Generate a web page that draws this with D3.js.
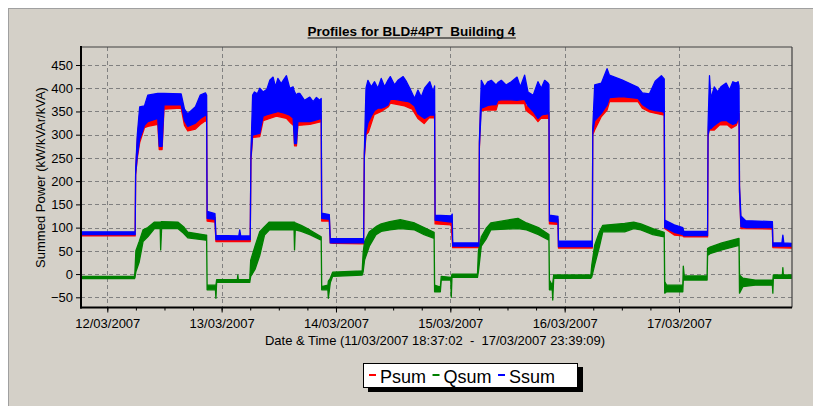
<!DOCTYPE html>
<html><head><meta charset="utf-8">
<script src="https://cdn.jsdelivr.net/npm/d3@7"></script>
<style>
body{margin:0;background:#fff}
svg{display:block}
text{font-family:Arial,"Liberation Sans",sans-serif;fill:#000;white-space:pre}
</style>
</head><body>
<svg id="c" width="813" height="406"></svg>
<script>
const chartTitle = "Profiles for BLD#4PT  Building 4";
const yTitle = "Summed Power (kW/kVAr/kVA)";
const xTitle = "Date & Time (11/03/2007 18:37:02  -  17/03/2007 23:39:09)";
const seriesNames = ["Psum", "Qsum", "Ssum"];
const seriesColors = ["#ff0000", "#008000", "#0000ff"];
const yTickValues = [-50, 0, 50, 100, 150, 200, 250, 300, 350, 400, 450];
const xTickLabels = ["12/03/2007", "13/03/2007", "14/03/2007", "15/03/2007", "16/03/2007", "17/03/2007"];
const startHour = -5.383;   // 11/03/2007 18:37:02
const endHour = 143.652;    // 17/03/2007 23:39:09

// rows: [hours since 12/03/2007 00:00, envelope low, envelope high]
const psum = [
 [-5.38,82,88],[5.85,82,88],[5.95,213,220],[6.3,250,290],[6.8,283,345],[7.8,315,340],[8.5,318,345],
 [10.6,322,350],[10.9,268,350],[11.5,268,350],[11.9,355,370],[15.5,357,370],[16.2,320,340],[16.9,308,330],
 [18.5,312,340],[19.5,322,350],[20.6,330,355],[20.85,328,350],[20.95,114,125],[22.6,112,122],[22.8,70,78],
 [30.0,70,78],[30.15,245,255],[30.5,294,330],[32.0,296,335],[32.7,330,350],[34.1,335,355],[35.5,340,360],
 [37.6,335,355],[38.5,325,345],[39.1,320,340],[39.3,276,330],[39.7,276,330],[40.0,320,335],[42.5,322,338],
 [44.9,328,342],[45.0,114,125],[46.6,114,122],[46.8,67,74],[47.5,66,72],[53.8,65,72],[53.95,250,258],
 [54.3,300,330],[54.8,305,335],[56.0,343,355],[57.5,350,360],[59.0,360,370],[59.4,368,380],[62.4,362,375],
 [64.0,355,368],[65.2,335,350],[66.5,324,345],[67.5,336,345],[68.7,336,345],[68.8,108,120],[72.2,106,118],
 [72.5,57,64],[78.0,57,64],[78.1,270,280],[78.4,352,365],[79.5,353,365],[81.6,353,365],[82.0,367,378],
 [87.6,367,378],[87.9,352,362],[89.5,340,355],[90.4,328,345],[91.0,335,348],[92.7,335,348],[92.8,108,120],
 [94.6,107,118],[94.7,56,66],[101.8,56,66],[101.9,300,310],[102.3,310,340],[103.7,339,350],[104.9,353,370],
 [105.4,371,385],[111.4,371,382],[112.3,357,370],[113.8,349,360],[116.9,342,355],[117.0,98,110],[119.0,84,95],
 [120.8,82,92],[121.0,80,88],[126.0,80,88],[126.1,295,305],[126.3,310,330],[127.4,310,330],[128.5,321,340],
 [130.2,321,340],[131.0,314,335],[132.0,320,338],[132.6,335,345],[132.7,175,185],[133.0,98,110],[139.6,97,108],
 [139.7,57,64],[143.65,56,64]
];
const qsum = [
 [-5.38,-10,-5],[5.7,-10,-5],[5.8,-8,5],[6.0,5,50],[6.7,26,70],[7.5,70,95],[8.5,80,100],[9.9,98,112],
 [11.1,98,112],[11.2,52,112],[11.4,98,113],[14.8,98,112],[16.0,88,102],[16.9,78,90],[20.7,73,84],[20.85,73,84],
 [20.95,-34,-24],[22.7,-34,-24],[22.8,-52,-24],[22.95,-18,-12],[27.3,-18,-12],[27.4,-18,-2],[27.5,-18,-12],
 [29.9,-18,-12],[30.1,-5,30],[31.0,10,60],[32.0,40,91],[33.0,84,102],[34.0,95,112],[39.2,95,112],[39.3,52,112],
 [39.45,95,110],[40.7,92,105],[42.5,85,95],[44.9,73,80],[45.0,-34,-27],[46.3,-34,-24],[46.4,-52,-15],
 [46.8,-19,-9],[47.3,-5,4],[53.5,-2,7],[53.7,5,45],[54.0,30,70],[55.0,60,91],[56.4,85,102],[57.5,92,108],
 [59.3,95,113],[61.5,98,117],[64.5,95,110],[66.5,85,100],[68.6,77,90],[68.7,-38,-24],[69.9,-38,-28],
 [70.1,-13,-5],[72.1,-13,-7],[72.2,-50,-7],[72.35,-7,0],[77.7,-7,0],[77.9,5,50],[78.5,60,80],[79.5,75,98],
 [80.5,95,110],[86.2,98,120],[88.0,95,110],[90.5,85,100],[92.7,73,85],[92.8,-34,-13],[93.4,-34,-24],
 [93.5,-56,-20],[93.7,-9,-2],[101.5,-9,-2],[101.7,-6,20],[102.3,20,62],[103.3,59,91],[104.0,91,105],
 [108.6,91,109],[110.5,98,112],[112.0,95,108],[114.5,85,98],[116.9,80,90],[117.0,-41,-16],[117.4,-38,-24],
 [120.8,-38,-24],[120.9,-13,17],[121.1,-13,-4],[125.9,-13,-4],[126.0,40,55],[126.5,44,58],[129.0,52,67],
 [132.6,62,77],[132.7,-41,-2],[133.4,-27,-9],[136.0,-24,-13],[139.6,-24,-13],[139.7,-41,-13],[139.8,-9,-2],
 [141.7,-9,-2],[141.8,-9,14],[141.9,-9,-2],[143.65,-9,-2]
];
const ssum = [
 [-5.38,85,91],[5.85,85,91],[5.95,215,225],[6.3,255,300],[6.8,290,360],[7.8,320,362],[8.5,328,385],
 [10.6,335,389],[10.9,275,389],[11.5,275,389],[11.9,364,389],[15.5,365,388],[16.2,330,355],[16.9,318,345],
 [18.5,325,360],[19.5,335,385],[20.6,342,390],[20.85,340,385],[20.95,120,135],[22.6,118,130],[22.8,74,83],
 [27.6,74,82],[27.8,74,95],[28.0,74,82],[30.0,74,82],[30.15,250,260],[30.5,299,385],[30.9,300,392],
 [31.5,302,388],[32.0,303,400],[32.7,340,392],[33.5,343,398],[34.1,345,417],[34.8,347,424],[35.3,348,403],
 [35.8,350,421],[36.5,348,410],[37.0,347,418],[37.6,345,427],[38.3,342,400],[39.0,336,403],[39.3,281,392],
 [39.7,281,385],[40.0,328,389],[40.4,328,389],[41.4,328,374],[42.5,328,381],[43.2,330,371],[43.9,332,380],
 [44.6,334,374],[44.9,335,378],[45.0,120,131],[46.6,118,128],[46.8,67,76],[53.8,67,76],[53.95,255,262],
 [54.3,306,400],[54.7,325,417],[55.4,340,403],[56.1,352,414],[56.8,357,400],[57.5,357,421],[58.2,360,403],
 [58.9,364,417],[59.4,376,425],[60.3,376,407],[61.0,375,417],[62.1,373,425],[62.8,372,414],[63.5,370,400],
 [64.5,362,378],[65.2,345,396],[65.9,340,381],[66.6,335,400],[67.7,342,414],[68.4,342,392],[68.7,342,405],
 [68.8,116,127],[72.2,112,125],[72.4,115,129],[72.5,60,67],[78.0,60,67],[78.1,275,285],[78.5,357,417],
 [79.2,360,403],[79.9,363,414],[80.6,364,417],[81.6,365,407],[82.0,374,412],[82.7,375,417],[83.7,375,407],
 [84.8,375,414],[86.0,374,424],[86.7,375,403],[87.6,376,428],[88.3,362,392],[89.4,350,385],[90.4,335,414],
 [91.1,342,400],[91.8,344,417],[92.5,345,411],[92.7,345,408],[92.8,114,127],[94.6,112,124],[94.7,59,71],
 [101.8,59,71],[101.9,305,315],[102.3,330,407],[103.7,346,411],[104.9,364,442],[105.4,380,428],
 [108.0,382,418],[111.4,378,402],[112.3,365,390],[113.8,355,388],[115.0,352,415],[116.3,350,427],
 [116.9,348,420],[117.0,100,116],[119.0,90,106],[120.8,85,100],[121.0,83,92],[126.0,83,92],[126.1,300,320],
 [126.4,313,427],[126.7,313,378],[127.4,320,403],[128.1,325,392],[128.8,330,403],[129.9,331,411],
 [130.6,326,396],[131.3,322,414],[132.0,325,411],[132.4,335,414],[132.6,340,405],[132.7,180,190],
 [133.0,102,125],[134.0,100,115],[139.6,100,113],[139.7,60,67],[141.6,60,67],[141.8,60,84],[142.0,60,67],
 [143.65,60,66]
];

const svg = d3.select("#c");
const base = Date.UTC(2007, 2, 12, 0, 0, 0);
const hd = h => new Date(base + h * 3600e3);
const L = 81, T = 47, R = 792, B = 307.5;

svg.append("rect").attr("x", 8.5).attr("y", 8.5).attr("width", 820).attr("height", 420)
  .attr("fill", "#d4d0c8").attr("stroke", "#a0a0a0");

const x = d3.scaleUtc().domain([hd(0), hd(120)]).range([107.3, 679]);
const y = d3.scaleLinear().domain([-50, 450]).range([297.3, 65]);

const dayDates = xTickLabels.map((_, i) => hd(24 * i));

// grid
const grid = svg.append("g").attr("stroke", "#808080").attr("stroke-width", 1).attr("stroke-dasharray", "4,3");
yTickValues.forEach(v => {
  const yy = Math.round(y(v)) + 0.5;
  grid.append("line").attr("x1", L).attr("x2", R).attr("y1", yy).attr("y2", yy);
});
dayDates.forEach(d => {
  const xx = Math.round(x(d)) + 0.5;
  grid.append("line").attr("x1", xx).attr("x2", xx).attr("y1", T).attr("y2", B);
});

// clip
svg.append("clipPath").attr("id", "clip").append("rect")
  .attr("x", L).attr("y", T).attr("width", R - L).attr("height", B - T);

const area = d3.area()
  .x(d => x(hd(d[0])))
  .y0(d => y(d[1]))
  .y1(d => y(d[2]));

const plot = svg.append("g").attr("clip-path", "url(#clip)");
[psum, qsum, ssum].forEach((s, i) => {
  plot.append("path").datum(s).attr("d", area)
    .attr("fill", seriesColors[i]).attr("stroke", seriesColors[i])
    .attr("stroke-width", 1.3).attr("stroke-linejoin", "round");
});

// frame
svg.append("line").attr("x1", L).attr("x2", R).attr("y1", T).attr("y2", T).attr("stroke", "#404040").attr("stroke-width", 1.2);
svg.append("line").attr("x1", R).attr("x2", R).attr("y1", T).attr("y2", B).attr("stroke", "#404040").attr("stroke-width", 1.2);

// axes
const yAxis = svg.append("g").attr("transform", `translate(${L},0)`)
  .call(d3.axisLeft(y).tickValues(yTickValues).tickSize(5).tickPadding(3));
const xAxis = svg.append("g").attr("transform", `translate(0,${B})`)
  .call(d3.axisBottom(x).tickValues(dayDates).tickFormat((d, i) => xTickLabels[i]).tickSize(5).tickPadding(6));
const xMinor = svg.append("g").attr("transform", `translate(0,${B})`)
  .call(d3.axisBottom(x).ticks(d3.utcHour.every(6)).tickSize(3).tickFormat(""));
[yAxis, xAxis, xMinor].forEach(g => {
  g.select(".domain").remove();
  g.selectAll("line").attr("stroke", "#000");
  g.selectAll("text").attr("font-size", 13).attr("font-family", "Arial, 'Liberation Sans', sans-serif").attr("fill", "#000");
});
xMinor.selectAll(".tick").filter(d => d < hd(startHour) || d > hd(endHour)).remove();
svg.append("line").attr("x1", L).attr("x2", L).attr("y1", T - 1).attr("y2", B + 1).attr("stroke", "#000").attr("stroke-width", 2);
svg.append("line").attr("x1", L - 1).attr("x2", R).attr("y1", B).attr("y2", B).attr("stroke", "#000").attr("stroke-width", 2);

// titles
const tt = svg.append("text").attr("x", 411.5).attr("y", 36).attr("text-anchor", "middle")
  .attr("font-size", 13.5).attr("font-weight", "bold").attr("xml:space", "preserve").text(chartTitle);
const tb = tt.node().getBBox();
svg.append("line").attr("x1", tb.x).attr("x2", tb.x + tb.width).attr("y1", 38).attr("y2", 38)
  .attr("stroke", "#000").attr("stroke-width", 1);

svg.append("text").attr("transform", "translate(45,177.5) rotate(-90)").attr("text-anchor", "middle")
  .attr("font-size", 13).text(yTitle);
svg.append("text").attr("x", 435).attr("y", 345).attr("text-anchor", "middle")
  .attr("font-size", 13).attr("xml:space", "preserve").text(xTitle);

// legend
const lg = svg.append("g");
lg.append("rect").attr("x", 368).attr("y", 367).attr("width", 215).attr("height", 25).attr("fill", "#000");
lg.append("rect").attr("x", 363.5).attr("y", 363.5).attr("width", 214).attr("height", 24)
  .attr("fill", "#fff").attr("stroke", "#000").attr("stroke-width", 1);
let cx = 369;
seriesNames.forEach((n, i) => {
  lg.append("line").attr("x1", cx).attr("x2", cx + 7).attr("y1", 375).attr("y2", 375)
    .attr("stroke", seriesColors[i]).attr("stroke-width", 2);
  const t = lg.append("text").attr("x", cx + 11).attr("y", 382.5).attr("font-size", 18).text(n);
  cx += 11 + t.node().getComputedTextLength() + 6.5;
});
</script>
</body></html>
